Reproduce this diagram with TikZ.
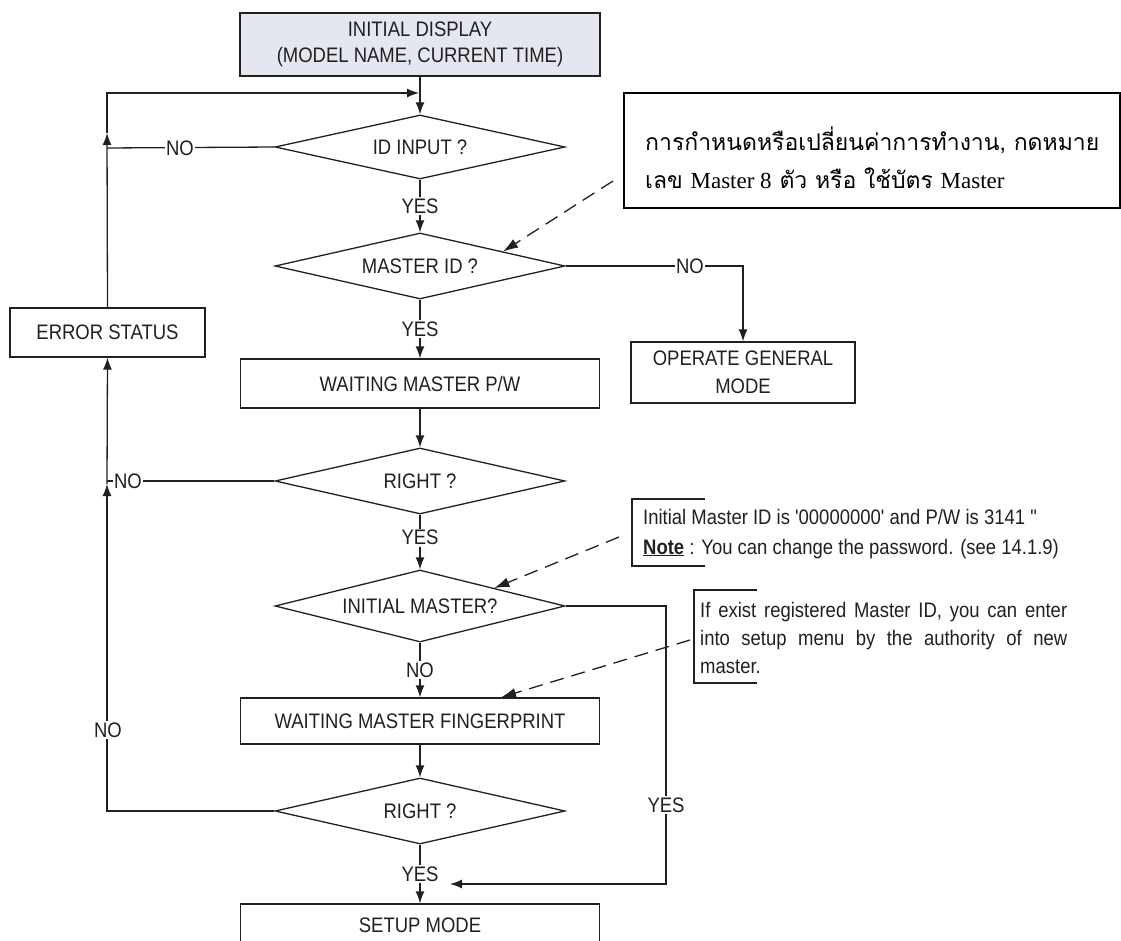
\documentclass[tikz,border=0pt]{standalone}
\usepackage{fontspec}
\usetikzlibrary{shapes.geometric,arrows.meta,calc}
\newfontfamily\labfont[FakeStretch=0.88]{Liberation Sans}
\newfontfamily\thaifont[Script=Thai]{Loma}
\newfontfamily\romfont{Liberation Serif}
\definecolor{ink}{RGB}{35,31,32}
\definecolor{panel}{RGB}{228,231,239}

\begin{document}
\begin{tikzpicture}[x=1pt,y=-1pt,
  every node/.style={font=\labfont\fontsize{21}{25}\selectfont, text=ink},
  flow/.style={draw=ink, line width=1.3pt},
  arr/.style={flow, -{Latex[length=12pt,width=9pt]}},
  stepbox/.style={flow, rectangle, inner sep=0pt, minimum width=359pt, minimum height=48pt},
  decision/.style={flow, diamond, inner sep=0pt, minimum width=290pt, minimum height=66pt, shape aspect=4.4},
  lbl/.style={fill=white, inner sep=1.5pt},
  txt/.style={anchor=base west, inner sep=0pt},
  pointer/.style={draw=ink, line width=1.3pt, dash pattern=on 14pt off 8pt, -{Latex[length=15pt,width=10pt]}},
  bracket/.style={draw=ink, line width=1.2pt},
  thai/.style={txt, font=\thaifont\fontsize{23}{27}\selectfont, text=black},
]
\useasboundingbox (0,0) rectangle (1121,941);

% ---- flow nodes ----
\node[flow, fill=panel, minimum width=360pt, minimum height=63pt, inner sep=0pt, align=center]
  (init) at (420,44.5) {INITIAL DISPLAY\\[1pt](MODEL NAME, CURRENT TIME)};
\node[decision, minimum height=64pt] (d1) at (420,147) {ID INPUT ?};
\node[decision] (d2) at (420,266) {MASTER ID ?};
\node[stepbox, minimum height=49pt] (pw) at (420,383.5) {WAITING MASTER P/W};
\node[stepbox, minimum width=224pt, minimum height=61pt, align=center]
  (gen) at (743,372.5) {OPERATE GENERAL\\[3pt]MODE};
\node[stepbox, minimum width=195pt, minimum height=49pt] (err) at (107.5,332.5) {ERROR STATUS};
\node[decision] (d3) at (420,481) {RIGHT ?};
\node[decision, minimum height=72pt] (d4) at (420,606) {INITIAL MASTER?};
\node[stepbox, minimum height=46pt] (fp) at (420,721) {WAITING MASTER FINGERPRINT};
\node[decision] (d5) at (420,811) {RIGHT ?};
\node[stepbox, minimum height=42pt] (setup) at (420,925) {SETUP MODE};

% ---- main column ----
\draw[arr] (init.south) -- (d1.north);
\draw[arr] (d1.south) -- node[lbl] {YES} (d2.north);
\draw[arr] (d2.south) -- node[lbl] {YES} (pw.north);
\draw[arr] (pw.south) -- (d3.north);
\draw[arr] (d3.south) -- node[lbl, pos=0.42] {YES} (d4.north);
\draw[arr] (d4.south) -- node[lbl] {NO} (fp.north);
\draw[arr] (fp.south) -- (d5.north);
\draw[arr] (d5.south) -- node[lbl] {YES} (setup.north);

% ---- MASTER ID ? : NO branch ----
\coordinate (g1) at (743,266);
\draw[arr] (d2.east) -- (g1) -- (gen.north);
\node[lbl] (n2) at (690,266) {NO};

% ---- INITIAL MASTER? : YES branch ----
\coordinate (y1) at (666,606);
\coordinate (y2) at (666,884);
\coordinate (y3) at (450,884);
\draw[arr] (d4.east) -- (y1) -- (y2) -- (y3);
\node[lbl] (y4) at (666,805) {YES};

% ---- return loop through ERROR STATUS ----
\coordinate (l1) at (107,148);
\coordinate (l2) at (107,133);
\coordinate (l3) at (107,93);
\coordinate (l4) at (419,93);
\draw[flow] (d1.west) -- (l1);
\draw[arr] (err.north) -- (l2);
\draw[arr] (l2) -- (l3) -- (l4);
\node[lbl] (n1) at (180,148) {NO};

\coordinate (k1) at (107,481);
\coordinate (k2) at (107,484);
\coordinate (k3) at (107,811);
\draw[flow] (d3.west) -- (k1);
\draw[arr] (d5.west) -- (k3) -- (k2);
\draw[arr] (k2) -- (err.south);
\node[lbl] (n3) at (128,481) {NO};
\node[lbl] (n4) at (108,730) {NO};

% ---- memo box (Thai) ----
\node[draw=black, line width=1.8pt, minimum width=496pt, minimum height=115pt, inner sep=0pt]
  (memo) at (872,150.5) {};
\node[thai] (memo1) at (645,151) {การกำหนดหรือเปลี่ยนค่าการทำงาน, กดหมาย};
\node[thai] (memo2) at (645,189) {เลข {\romfont Master 8} ตัว หรือ ใช้บัตร {\romfont Master}};
\coordinate (p1) at (613,181);
\draw[pointer] (p1) -- ($(d2.north)!0.57!(d2.east)$);

% ---- note on the initial password ----
\draw[bracket] (705,499) -- (632,499) -- (632,566) -- (705,566);
\node[txt] (note1a) at (643,524) {Initial Master ID is '00000000' and P/W is 3141 "};
\node[txt] (note1b) at (643,554) {\underline{\bfseries Note} : You can change the password. (see 14.1.9)};
\coordinate (p2) at (619,537);
\draw[pointer] (p2) -- ($(d4.north)!0.51!(d4.east)$);

% ---- note on registered masters ----
\draw[bracket] (757,590) -- (694,590) -- (694,683) -- (757,683);
\node[txt] (note2a) at (700,617) {\makebox[367pt][s]{If exist registered Master ID, you can enter}};
\node[txt] (note2b) at (700,645) {\makebox[367pt][s]{into setup menu by the authority of new}};
\node[txt] (note2c) at (700,673) {master.};
\coordinate (p3) at (690,640);
\draw[pointer] (p3) -- ($(fp.north)+(81,0)$);
\end{tikzpicture}
\end{document}
